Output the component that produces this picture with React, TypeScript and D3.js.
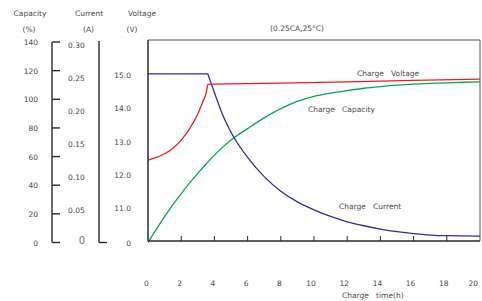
import React from 'react';
import * as d3 from 'd3';

// x axis (hours)
const hourTicks = [0, 2, 4, 6, 8, 10, 12, 14, 16, 18, 20];
// left axes
const capacityTicks = [0, 20, 40, 60, 80, 100, 120, 140];
const currentTicks = [0.05, 0.1, 0.15, 0.2, 0.25, 0.3];
const voltageTicks = [10, 11, 12, 13, 14, 15];

// [hours, volts]
const voltageRise: [number, number][] = [
  [0, 12.44], [0.5, 12.52], [1, 12.63], [1.5, 12.8], [2, 13.04],
  [2.5, 13.38], [3, 13.83], [3.3, 14.2], [3.5, 14.46], [3.6, 14.72],
];
const voltageHold: [number, number][] = [
  [3.6, 14.72], [4, 14.73], [8, 14.76], [12, 14.8], [16, 14.84], [20, 14.88],
];

// [hours, amps]
const currentConst: [number, number][] = [[0, 0.252], [3.6, 0.252]];
const currentTaper: [number, number][] = [
  [3.6, 0.252], [3.8, 0.238], [4, 0.224], [4.5, 0.19], [5, 0.164], [6, 0.126],
  [7, 0.097], [8, 0.075], [9, 0.059], [10, 0.047], [11, 0.037], [12, 0.029],
  [13, 0.023], [14, 0.018], [15, 0.014], [16, 0.011], [17, 0.009], [18, 0.008],
  [20, 0.0075],
];

// [hours, %]
const capacity: [number, number][] = [
  [0, 0], [0.5, 9.2], [1, 18], [1.5, 26.4], [2, 34.2], [2.5, 41.5], [3, 48.3],
  [3.5, 54.8], [4, 61], [4.5, 66.6], [5, 71.6], [6, 79.5], [7, 87], [8, 93.5],
  [9, 98.5], [10, 102], [11, 104.3], [12, 106.1], [13, 107.7], [14, 108.9],
  [15, 109.9], [16, 110.6], [17, 111.1], [18, 111.5], [19, 111.9], [20, 112.2],
];

const FONT = '"DejaVu Sans", Verdana, sans-serif';
const TXT = '#4a4a4a';
const AXIS = '#2b2b2b';

export default function App() {
  const W = 482, H = 301;
  const plot = { left: 148, right: 480, top: 40, bottom: 241 };

  const x = d3.scaleLinear().domain([0, 20]).range([plot.left, plot.right]);
  const yVolt = d3.scaleLinear().domain([10, 16]).range([plot.bottom, 42]);
  const yCur = d3.scaleLinear().domain([0, 0.3]).range([plot.bottom, 42]);
  const yCap = d3.scaleLinear().domain([0, 140]).range([242.5, 42]);

  const mono = (y: d3.ScaleLinear<number, number>) =>
    d3.line<[number, number]>().x(d => x(d[0])).y(d => y(d[1])).curve(d3.curveMonotoneX);
  const lin = (y: d3.ScaleLinear<number, number>) =>
    d3.line<[number, number]>().x(d => x(d[0])).y(d => y(d[1]));

  const txt = (props: any, s: string) => (
    <text fontFamily={FONT} fontSize={7.5} fill={TXT} style={{ whiteSpace: 'pre' }} {...props}>{s}</text>
  );

  return (
    <svg width={W} height={H} style={{ position: 'absolute', left: 0, top: 0, background: '#fff' }}>
      {/* titles */}
      {txt({ x: 30, y: 16, textAnchor: 'middle' }, 'Capacity')}
      {txt({ x: 29, y: 32, textAnchor: 'middle' }, '(%)')}
      {txt({ x: 89, y: 16, textAnchor: 'middle' }, 'Current')}
      {txt({ x: 88.5, y: 32, textAnchor: 'middle' }, '(A)')}
      {txt({ x: 142, y: 16, textAnchor: 'middle' }, 'Voltage')}
      {txt({ x: 132, y: 32, textAnchor: 'middle' }, '(V)')}
      {txt({ x: 297, y: 31, textAnchor: 'middle' }, '(0.25CA,25°C)')}

      {/* capacity axis */}
      <line x1={52} x2={52} y1={yCap(140)} y2={yCap(0)} stroke={AXIS} strokeWidth={1.4} />
      {capacityTicks.map(v => (
        <g key={'c' + v}>
          <line x1={52} x2={60} y1={yCap(v)} y2={yCap(v)} stroke={AXIS} strokeWidth={1.4} />
          {txt({ x: 38, y: yCap(v) + 3, textAnchor: 'end' }, String(v))}
        </g>
      ))}

      {/* current axis */}
      <line x1={99} x2={99} y1={41} y2={242.5} stroke={AXIS} strokeWidth={1.4} />
      <line x1={99} x2={107} y1={242.5} y2={242.5} stroke={AXIS} strokeWidth={1.4} />
      {currentTicks.map(v => (
        <g key={'i' + v}>{txt({ x: 68, y: yCur(v) + 5.5 }, v.toFixed(2))}</g>
      ))}
      <text x={82} y={yCur(0) + 3} fontFamily={FONT} fontSize={10} fill="#777" textAnchor="middle">0</text>

      {/* voltage axis */}
      {voltageTicks.map(v => (
        <g key={'v' + v}>
          {txt({ x: 131, y: (v === 10 ? 242.5 : yVolt(v)) + 3, textAnchor: 'end' }, v === 10 ? '0' : v.toFixed(1))}
        </g>
      ))}

      {/* plot frame */}
      <line x1={plot.left} x2={plot.right} y1={plot.top} y2={plot.top} stroke="#555" strokeWidth={1} />
      <line x1={plot.right} x2={plot.right} y1={plot.top} y2={plot.bottom} stroke="#555" strokeWidth={1} />

      {/* x ticks */}
      {hourTicks.filter(h => h > 0 && h < 20).map(h => (
        <line key={'t' + h} x1={x(h)} x2={x(h)} y1={plot.bottom - 5} y2={plot.bottom} stroke={AXIS} strokeWidth={1} />
      ))}
      {hourTicks.map(h => (
        <g key={'h' + h}>
          {txt(h === 20 ? { x: x(h) - 2, y: 286, textAnchor: 'end' } : { x: x(h) - (h >= 10 ? 3 : 1.5), y: 286, textAnchor: 'middle' }, String(h))}
        </g>
      ))}
      {txt({ x: 342, y: 298 }, 'Charge   time(h)')}

      {/* curves */}
      <path d={mono(yCap)(capacity) || ''} fill="none" stroke="#0aa650" strokeWidth={1.3} />
      <path d={lin(yCur)(currentConst) || ''} fill="none" stroke="#2e3192" strokeWidth={1.3} />
      <path d={mono(yCur)(currentTaper) || ''} fill="none" stroke="#2e3192" strokeWidth={1.3} />
      <path d={mono(yVolt)(voltageRise) || ''} fill="none" stroke="#ed1c24" strokeWidth={1.3} />
      <path d={lin(yVolt)(voltageHold) || ''} fill="none" stroke="#ed1c24" strokeWidth={1.3} />

      <line x1={plot.left} x2={plot.left} y1={plot.top} y2={plot.bottom} stroke={AXIS} strokeWidth={1.5} />
      <line x1={plot.left} x2={plot.right} y1={plot.bottom} y2={plot.bottom} stroke={AXIS} strokeWidth={1.5} />

      {/* series labels */}
      {txt({ x: 357, y: 76 }, 'Charge   Voltage')}
      {txt({ x: 308, y: 112 }, 'Charge   Capacity')}
      {txt({ x: 339, y: 209 }, 'Charge   Current')}
    </svg>
  );
}
